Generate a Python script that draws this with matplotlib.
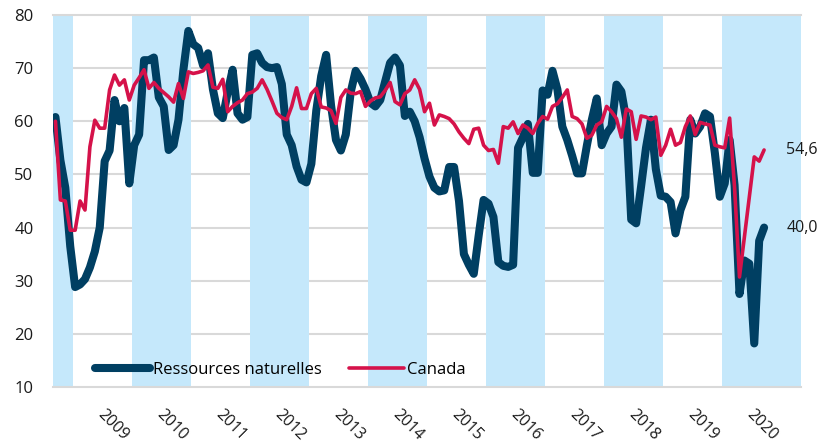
import matplotlib
matplotlib.use('Agg')
import matplotlib.pyplot as plt

plt.rcParams['font.family'] = ['Open Sans', 'DejaVu Sans']

# Données mensuelles, sept. 2008 à sept. 2020
ressources = [
    60.8, 52.7, 47.5, 36.5,
    28.8, 29.3, 30.3, 32.5, 35.5, 40.0, 52.5, 54.5, 64.0, 60.0, 62.5, 48.3,
    55.5, 57.5, 71.5, 71.5, 72.0, 64.5, 62.8, 54.6, 55.5, 60.3, 69.7, 77.0,
    74.5, 73.8, 70.5, 72.8, 66.0, 61.5, 60.6, 65.5, 69.7, 61.5, 60.3, 60.8,
    72.5, 72.8, 71.0, 70.2, 70.0, 70.2, 67.0, 57.5, 55.5, 51.5, 49.0, 48.5,
    52.0, 62.0, 68.5, 72.5, 63.0, 56.5, 54.5, 57.5, 65.5, 69.5, 68.0, 66.0,
    63.5, 62.8, 64.0, 67.5, 71.0, 72.0, 70.5, 61.0, 61.8, 60.0, 57.0, 53.0,
    49.6, 47.5, 46.8, 47.0, 51.4, 51.4, 45.0, 35.0, 33.0, 31.3, 38.5, 45.2,
    44.5, 42.0, 33.5, 32.8, 32.6, 33.0, 55.0, 57.0, 59.5, 50.3, 50.3, 65.8,
    65.0, 69.5, 66.0, 59.0, 56.5, 53.5, 50.2, 50.2, 55.5, 60.3, 64.3, 55.5,
    57.7, 59.0, 66.9, 65.6, 60.3, 41.5, 40.8, 47.7, 55.0, 60.3, 51.0, 46.0,
    45.8, 44.8, 38.9, 43.3, 45.8, 60.3, 57.7, 59.0, 61.5, 60.9, 54.0, 45.8,
    48.3, 56.5, 48.0, 27.5, 33.8, 33.2, 18.2, 37.5, 40.0,
]
canada = [
    60.0, 45.2, 45.0, 39.5,
    39.5, 45.0, 43.3, 55.2, 60.2, 58.7, 58.7, 65.9, 68.7, 66.8, 67.8, 64.0,
    66.8, 68.2, 69.7, 66.2, 67.3, 66.2, 65.4, 64.6, 63.6, 67.1, 64.3, 69.3,
    69.0, 69.2, 69.5, 70.6, 66.4, 66.2, 67.9, 61.8, 62.8, 63.5, 64.0, 65.2,
    65.5, 66.2, 67.8, 66.0, 63.8, 61.5, 60.7, 60.3, 62.8, 66.3, 62.4, 62.4,
    65.2, 66.2, 62.7, 62.5, 62.0, 59.6, 64.5, 65.9, 65.3, 65.2, 65.6, 62.8,
    63.8, 64.4, 64.6, 65.8, 67.3, 63.7, 63.1, 65.2, 65.9, 67.8, 66.0, 61.8,
    63.4, 59.3, 61.2, 60.9, 60.5, 59.5, 58.0, 56.8, 55.8, 58.5, 58.7, 55.5,
    54.5, 54.7, 52.1, 59.0, 58.7, 59.9, 57.7, 59.3, 58.7, 57.7, 59.6, 60.9,
    60.4, 62.8, 63.3, 64.5, 65.9, 60.9, 60.5, 59.5, 56.8, 57.4, 59.3, 59.9,
    62.8, 61.8, 60.5, 57.0, 62.3, 61.8, 56.6, 61.0, 60.8, 60.3, 60.8, 53.6,
    55.5, 58.5, 55.5, 56.0, 59.0, 61.0, 57.5, 59.8, 59.5, 59.3, 55.5, 55.2,
    55.0, 60.6, 47.5, 30.7, 38.2, 45.7, 53.3, 52.5, 54.6,
]
years = list(range(2009, 2021))
bande_years = [2008, 2010, 2012, 2014, 2016, 2018, 2020]

BLEU = '#003f62'
ROUGE = '#d5124a'
BANDE = '#c5e8fb'
GRILLE = '#d9d9d9'

n_axe = 152  # sept. 2008 -> avr. 2021
x = list(range(len(ressources)))

def idx_jan(an):
    return (an - 2008) * 12 - 8

fig = plt.figure(figsize=(8.2, 4.45), dpi=100)
ax = fig.add_axes([53 / 820, 58 / 445, 748 / 820, 372 / 445])
ax.set_xlim(-0.5, n_axe - 0.5)
ax.set_ylim(10, 80)

# grille sous les bandes
for v in range(20, 80, 10):
    ax.axhline(v, color=GRILLE, lw=1.5, zorder=0)
for an in bande_years:
    debut = max(idx_jan(an) - 0.5, -0.5)
    fin = idx_jan(an) + 11.5
    if an == bande_years[-1]:
        fin = n_axe - 0.5  # la dernière bande va jusqu'au bout de l'axe
    ax.axvspan(debut, fin, color=BANDE, lw=0, zorder=1)
for v in (10, 80):
    ax.axhline(v, color=GRILLE, lw=1.5, zorder=2, clip_on=False)

ax.plot(x, ressources, color=BLEU, lw=5.8, solid_joinstyle='round',
        solid_capstyle='round', label='Ressources naturelles', zorder=3)
ax.plot(x, canada, color=ROUGE, lw=2.6, solid_joinstyle='round',
        solid_capstyle='round', label='Canada', zorder=4)

for val in (canada[-1], ressources[-1]):
    ax.annotate(f'{val:.1f}'.replace('.', ','), (x[-1], val),
                xytext=(16, 0), textcoords='offset points', va='center',
                ha='left', fontsize=11.5, color='#1a1a1a', annotation_clip=False)

for s in ax.spines.values():
    s.set_visible(False)
ax.set_yticks(range(10, 81, 10))
ax.set_xticks([idx_jan(a) + 7.6 for a in years])
ax.set_xticklabels([str(a) for a in years], rotation=-45, ha='center', va='top')
ax.tick_params(axis='y', length=0, pad=14, labelsize=12, labelcolor='#1a1a1a')
ax.tick_params(axis='x', length=0, pad=14, labelsize=11.5, labelcolor='#1a1a1a')

ax.legend(loc='center left', bbox_to_anchor=(0.056, 0.046), ncol=2,
          frameon=False, fontsize=12, handlelength=3.3, handletextpad=0.2,
          columnspacing=1.6, borderpad=0, borderaxespad=0)

fig.savefig('out.png', dpi=100)
